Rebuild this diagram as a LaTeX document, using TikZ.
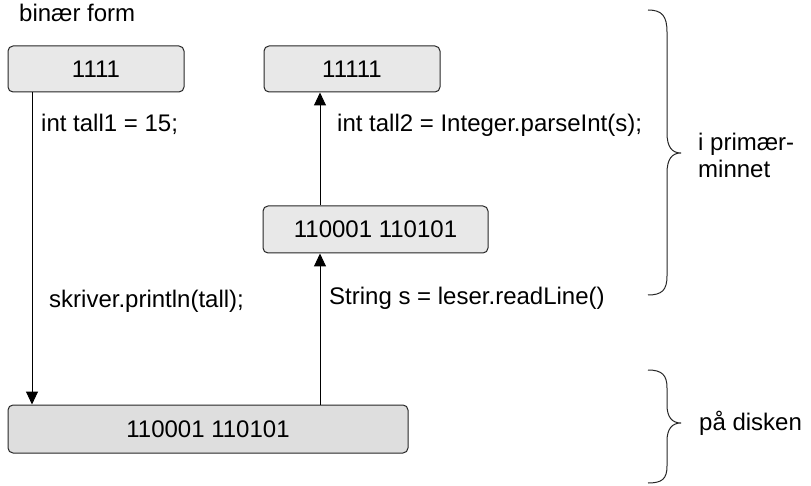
\documentclass[tikz,border=0pt]{standalone}
\usepackage{fontspec}
\setmainfont{Liberation Sans}
\usetikzlibrary{arrows.meta}
\begin{document}
\begin{tikzpicture}[x=1pt,y=-1pt,
  boxstyle/.style={draw=black!85, line width=1pt, rounded corners=5pt, fill=black!9, inner sep=0pt, font=\fontsize{24}{27}\selectfont},
  diskstyle/.style={boxstyle, fill=black!13},
  lbl/.style={anchor=base west, inner sep=0pt, font=\fontsize{24}{27}\selectfont},
  arr/.style={line width=1pt, -{Triangle[length=13pt,width=12pt]}},
  brc/.style={line width=1pt, black!85}]
\useasboundingbox (0,0) rectangle (811,486);
\node[lbl] (bf) at (19,22) {binær form};
\node[boxstyle, minimum width=176pt, minimum height=46pt] (b1) at (96,69) {1111};
\node[boxstyle, minimum width=176pt, minimum height=46pt] (b2) at (352,69) {11111};
\node[boxstyle, minimum width=225pt, minimum height=47pt] (b3) at (375.5,229.5) {110001 110101};
\node[diskstyle, minimum width=400pt, minimum height=48pt] (disk) at (208,429) {110001 110101};
\coordinate (ax1) at (32,0);
\coordinate (ax2) at (320,0);
\draw[arr] (b1.south -| ax1) -- (disk.north -| ax1);
\draw[arr] (disk.north -| ax2) -- (b3.south -| ax2);
\draw[arr] (b3.north -| ax2) -- (b2.south -| ax2);
\node[lbl] (l1) at (41,132) {int tall1 = 15;};
\node[lbl] (l2) at (337,132) {int tall2 = Integer.parseInt(s);};
\node[lbl] (l3) at (49,308) {skriver.println(tall);};
\node[lbl] (l4) at (329,305) {String s = leser.readLine()};
\draw[brc] (648,10) .. controls (662,10) and (667,16) .. (667,32) -- (667,133)
  .. controls (667,147) and (672,153) .. (681,153)
  .. controls (672,153) and (667,159) .. (667,173) -- (667,276)
  .. controls (667,290) and (662,295) .. (648,295);
\draw[brc] (648,370) .. controls (662,370) and (667,375) .. (667,388) -- (667,405)
  .. controls (667,417) and (672,423) .. (681,423)
  .. controls (672,423) and (667,429) .. (667,441) -- (667,466)
  .. controls (667,479) and (662,483) .. (648,483);
\node[lbl, align=left, anchor=base west] (pm) at (698,178) {i primær-\\minnet};
\node[lbl] (pd) at (699,430) {på disken};
\end{tikzpicture}
\end{document}
